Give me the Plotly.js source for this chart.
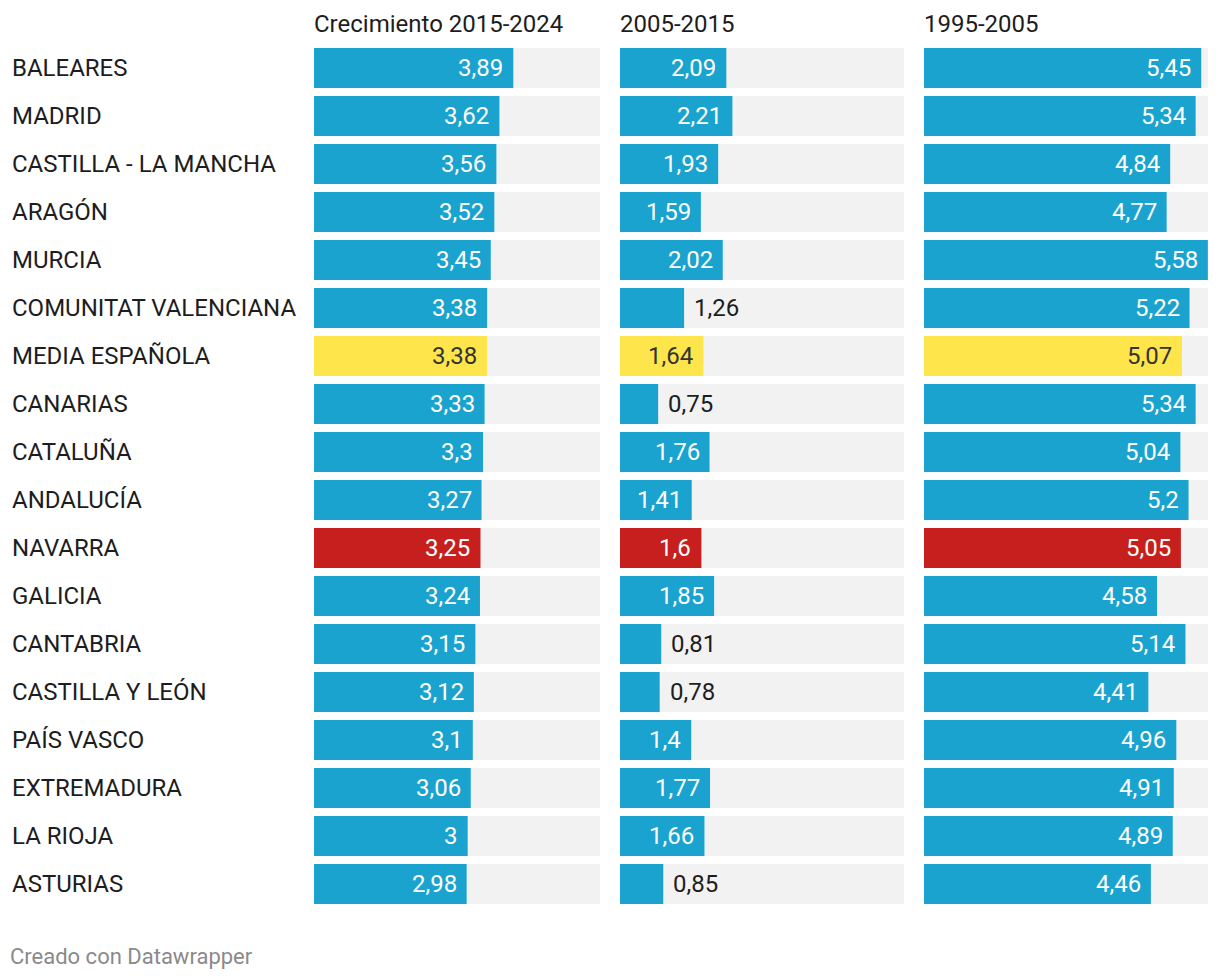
<!DOCTYPE html>
<html>
<head>
<meta charset="utf-8">
<script src="https://cdn.plot.ly/plotly-3.0.1.min.js"></script>
<style>html,body{margin:0;padding:0;background:#fff;}#chart{width:1220px;height:980px;}</style>
</head>
<body>
<div id="chart"></div>
<script>
const regions = ["BALEARES","MADRID","CASTILLA - LA MANCHA","ARAGÓN","MURCIA","COMUNITAT VALENCIANA","MEDIA ESPAÑOLA","CANARIAS","CATALUÑA","ANDALUCÍA","NAVARRA","GALICIA","CANTABRIA","CASTILLA Y LEÓN","PAÍS VASCO","EXTREMADURA","LA RIOJA","ASTURIAS"];
const growth2015_2024 = [3.89,3.62,3.56,3.52,3.45,3.38,3.38,3.33,3.3,3.27,3.25,3.24,3.15,3.12,3.1,3.06,3,2.98];
const growth2005_2015 = [2.09,2.21,1.93,1.59,2.02,1.26,1.64,0.75,1.76,1.41,1.6,1.85,0.81,0.78,1.4,1.77,1.66,0.85];
const growth1995_2005 = [5.45,5.34,4.84,4.77,5.58,5.22,5.07,5.34,5.04,5.2,5.05,4.58,5.14,4.41,4.96,4.91,4.89,4.46];
const columnTitles = ["Crecimiento 2015-2024","2005-2015","1995-2005"];
const footer = "Creado con Datawrapper";

const W = 1220, H = 980;
const FONT = "Roboto, 'Noto Sans', sans-serif";
const BLUE = "#1aa3ce", YELLOW = "#fee54b", RED = "#c71f1d", TRACK = "#f2f2f2";
const highlight = {"MEDIA ESPAÑOLA": YELLOW, "NAVARRA": RED};
const cols = [
  {vals: growth2015_2024, x0: 314, x1: 600},
  {vals: growth2005_2015, x0: 620, x1: 904},
  {vals: growth1995_2005, x0: 924, x1: 1208}
];
const maxV = Math.max(...growth2015_2024, ...growth2005_2015, ...growth1995_2005) * 1.0005;
const rowTop = 44, rowPitch = 48;
const yBottom = rowTop + rowPitch * regions.length;

const traces = [];
const annotations = [];
const layout = {
  width: W, height: H,
  margin: {l:0, r:0, t:0, b:0},
  paper_bgcolor: "#fff", plot_bgcolor: "#fff",
  showlegend: false,
  barmode: "overlay",
  bargap: 8/48,
  hovermode: false,
  font: {family: FONT, size: 24, color: "#1d1d1d"},
  yaxis: {
    type: "category", autorange: "reversed",
    domain: [(H - yBottom)/H, (H - rowTop)/H],
    showgrid: false, zeroline: false, showticklabels: false, showline: false, ticks: ""
  },
  annotations: annotations
};

const fmt = v => String(v).replace(".", ",");

cols.forEach((c, i) => {
  const ax = i === 0 ? "x" : "x" + (i + 1);
  const axName = i === 0 ? "xaxis" : "xaxis" + (i + 1);
  layout[axName] = {
    domain: [c.x0 / W, c.x1 / W], range: [0, maxV], anchor: "y",
    showgrid: false, zeroline: false, showticklabels: false, showline: false, ticks: "", fixedrange: true
  };
  traces.push({
    type: "bar", orientation: "h", xaxis: ax, yaxis: "y",
    y: regions, x: regions.map(() => maxV),
    marker: {color: TRACK, line: {width: 0}}, hoverinfo: "skip"
  });
  traces.push({
    type: "bar", orientation: "h", xaxis: ax, yaxis: "y",
    y: regions, x: c.vals,
    marker: {color: regions.map(r => highlight[r] || BLUE), line: {width: 0}}, hoverinfo: "skip"
  });
  c.vals.forEach((v, j) => {
    const inside = v >= 1.3;
    const col = regions[j];
    const textColor = inside ? (highlight[col] === YELLOW ? "#333333" : "#ffffff") : "#1d1d1d";
    annotations.push({
      xref: ax, yref: "y", x: v, y: col,
      text: fmt(v), showarrow: false,
      xanchor: inside ? "right" : "left", yanchor: "middle",
      xshift: inside ? -10 : 10,
      borderpad: 0, borderwidth: 0,
      font: {family: FONT, size: 24, color: textColor}
    });
  });
  annotations.push({
    xref: "paper", yref: "paper", x: c.x0 / W, y: 1 - 24 / H,
    text: columnTitles[i], showarrow: false, xanchor: "left", yanchor: "middle",
    borderpad: 0, borderwidth: 0,
    font: {family: FONT, size: 24, color: "#1d1d1d"}
  });
});

regions.forEach(r => {
  annotations.push({
    xref: "paper", yref: "y", x: 12 / W, y: r,
    text: r, showarrow: false, xanchor: "left", yanchor: "middle",
    borderpad: 0, borderwidth: 0,
    font: {family: FONT, size: 24, color: "#1d1d1d"}
  });
});

annotations.push({
  xref: "paper", yref: "paper", x: 10 / W, y: 1 - 956 / H,
  text: footer, showarrow: false, xanchor: "left", yanchor: "middle",
  borderpad: 0, borderwidth: 0,
  font: {family: FONT, size: 22, color: "#8a8a8a"}
});

Plotly.newPlot("chart", traces, layout, {displayModeBar: false, staticPlot: true});
</script>
</body>
</html>
